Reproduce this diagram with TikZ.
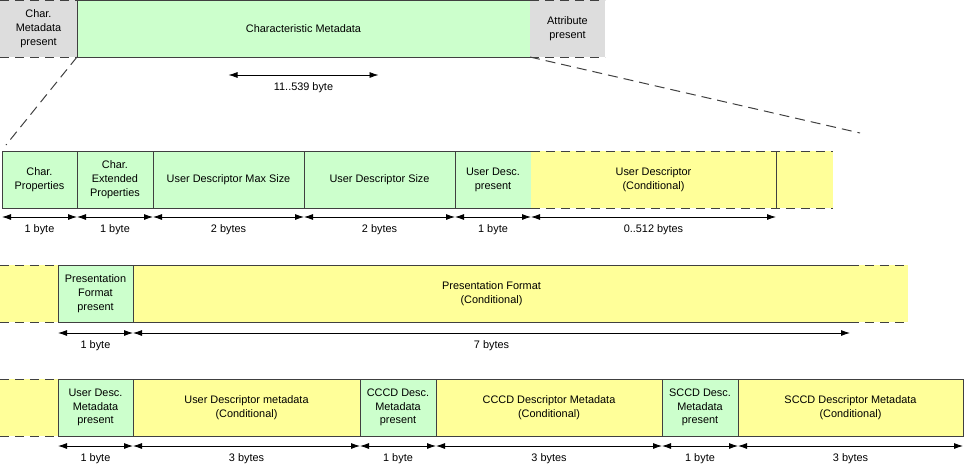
\documentclass[tikz,border=0pt]{standalone}
\usepackage{fontspec}
\setmainfont{Liberation Sans}
\usetikzlibrary{positioning,arrows.meta}

\definecolor{mint}{HTML}{CCFFCC}
\definecolor{lemon}{HTML}{FFFF99}
\definecolor{greyfill}{HTML}{DDDDDD}
\definecolor{edge}{HTML}{404040}
\newcommand{\lblfont}{\fontsize{10.9}{13.8}\selectfont}

\begin{document}
\begin{tikzpicture}[x=1pt,y=-1pt,
  field/.style={minimum height=57pt, inner sep=1pt, outer sep=0pt, align=center, font=\lblfont},
  gfield/.style={field, fill=mint, draw=edge, line width=1pt},
  yfield/.style={field, fill=lemon, draw=edge, line width=1pt},
  yopen/.style={field, fill=lemon},
  gray/.style={field, fill=greyfill},
  cut/.style={draw=edge, line width=1pt, dash pattern=on 9pt off 6pt},
  size/.style={{Latex[length=9pt,width=6pt]}-{Latex[length=9pt,width=6pt]}, line width=0.8pt},
  szlbl/.style={below=7pt, inner sep=0pt, font=\lblfont}]
\useasboundingbox (0,0) rectangle (965,466);

% characteristic
\node[gray, minimum width=77pt, anchor=north west] (cmp) at (0,0) {Char.\\Metadata\\present};
\node[gfield, minimum width=453pt, right=0pt of cmp] (cm) {Characteristic Metadata};
\node[gray, minimum width=75pt, right=0pt of cm] (ap) {Attribute\\present};
\draw[cut] (cmp.north west) -- (cmp.north east) (cmp.south west) -- (cmp.south east);
\draw[cut] (ap.north west) -- (ap.north east) (ap.south west) -- (ap.south east);
\draw[size] ([shift={(-75pt,-18pt)}]cm.south) -- ([shift={(75pt,-18pt)}]cm.south)
  node[szlbl, midway] {11..539 byte};

\coordinate (zl) at (6,145);
\coordinate (zr) at (860,133);
\draw[cut, dash pattern=on 10pt off 6pt] (cm.south west) -- (zl);
\draw[cut, dash pattern=on 10pt off 6pt] (cm.south east) -- (zr);

% row 1
\node[gfield, minimum width=75pt, anchor=north west] (cp) at (2,151) {Char.\\Properties};
\node[gfield, minimum width=76pt, right=0pt of cp] (cep) {Char.\\Extended\\Properties};
\node[gfield, minimum width=151pt, right=0pt of cep] (udm) {User Descriptor Max Size};
\node[gfield, minimum width=151pt, right=0pt of udm] (uds) {User Descriptor Size};
\node[gfield, minimum width=76pt, right=0pt of uds] (udp) {User Desc.\\present};
\node[yopen, minimum width=245pt, right=0pt of udp] (ud) {User Descriptor\\(Conditional)};
\node[yopen, minimum width=57pt, right=0pt of ud] (r1end) {};
\draw[cut] (ud.north west) -- (r1end.north east) (ud.south west) -- (r1end.south east);
\draw[edge, line width=1pt] (ud.north east) -- (ud.south east);

\foreach \f/\t in {cp/1 byte, cep/1 byte, udm/2 bytes, uds/2 bytes, udp/1 byte, ud/0..512 bytes}
  \draw[size] ([yshift=-9pt]\f.south west) -- ([yshift=-9pt]\f.south east) node[szlbl, midway] {\t};

% row 2
\node[yopen, minimum width=58pt, anchor=north west] (r2start) at (0,265) {};
\node[gfield, minimum width=75pt, right=0pt of r2start] (pfp) {Presentation\\Format\\present};
\node[yfield, minimum width=717pt, right=0pt of pfp] (pf) {Presentation Format\\(Conditional)};
\node[yopen, minimum width=58pt, right=0pt of pf] (r2end) {};
\draw[cut] (r2start.north west) -- (r2start.north east) (r2start.south west) -- (r2start.south east);
\draw[cut] (r2end.north west) -- (r2end.north east) (r2end.south west) -- (r2end.south east);

\foreach \f/\t in {pfp/1 byte, pf/7 bytes}
  \draw[size] ([yshift=-11pt]\f.south west) -- ([yshift=-11pt]\f.south east) node[szlbl, midway] {\t};

% row 3
\node[yopen, minimum width=58pt, anchor=north west] (r3start) at (0,379) {};
\node[gfield, minimum width=75pt, right=0pt of r3start] (udmp) {User Desc.\\Metadata\\present};
\node[yfield, minimum width=227pt, right=0pt of udmp] (udmd) {User Descriptor metadata\\(Conditional)};
\node[gfield, minimum width=76pt, right=0pt of udmd] (cccdp) {CCCD Desc.\\Metadata\\present};
\node[yfield, minimum width=226pt, right=0pt of cccdp] (cccd) {CCCD Descriptor Metadata\\(Conditional)};
\node[gfield, minimum width=76pt, right=0pt of cccd] (sccdp) {SCCD Desc.\\Metadata\\present};
\node[yfield, minimum width=225pt, right=0pt of sccdp] (sccd) {SCCD Descriptor Metadata\\(Conditional)};
\draw[cut] (r3start.north west) -- (r3start.north east) (r3start.south west) -- (r3start.south east);

\foreach \f/\t in {udmp/1 byte, udmd/3 bytes, cccdp/1 byte, cccd/3 bytes, sccdp/1 byte, sccd/3 bytes}
  \draw[size] ([yshift=-10pt]\f.south west) -- ([yshift=-10pt]\f.south east) node[szlbl, midway] {\t};
\end{tikzpicture}
\end{document}
